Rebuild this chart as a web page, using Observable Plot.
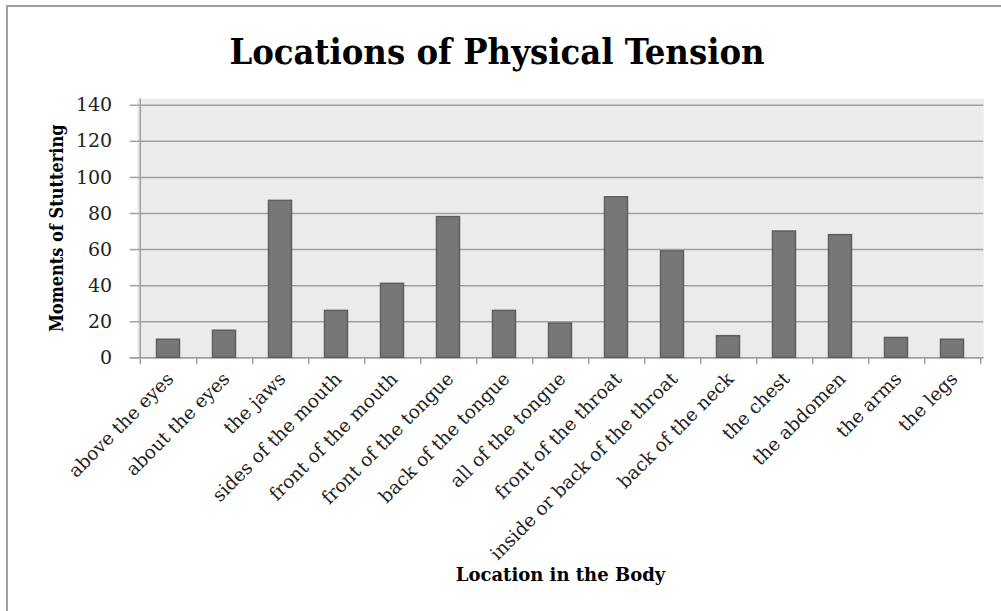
<!DOCTYPE html>
<html>
<head>
<meta charset="utf-8">
<script src="https://cdn.jsdelivr.net/npm/d3@7"></script>
<script src="https://cdn.jsdelivr.net/npm/@observablehq/plot@0.6"></script>
<style>
  html, body { margin: 0; padding: 0; background: #fff; }
  #frame {
    position: absolute; left: 6px; top: 5px; width: 1001px; height: 620px;
    border-top: 2px solid #a0a0a0; border-left: 2px solid #a0a0a0;
  }
  #title {
    position: absolute; left: 0; top: 31px; width: 994px; text-align: center;
    font-family: "DejaVu Serif Condensed", "DejaVu Serif", serif; font-stretch: condensed;
    font-weight: bold; font-size: 36px; color: #000; line-height: 40px;
  }
  #chart { position: absolute; left: 0; top: 90px; }
</style>
</head>
<body>
<div id="frame"></div>
<div id="title">Locations of Physical Tension</div>
<div id="chart"></div>
<script>
const locations = [
  "above the eyes", "about the eyes", "the jaws", "sides of the mouth",
  "front of the mouth", "front of the tongue", "back of the tongue",
  "all of the tongue", "front of the throat", "inside or back of the throat",
  "back of the neck", "the chest", "the abdomen", "the arms", "the legs"
];
const moments = [10, 15, 87, 26, 41, 78, 26, 19, 89, 59, 12, 70, 68, 11, 10];
const yTicks = [0, 20, 40, 60, 80, 100, 120, 140];

const data = locations.map((loc, i) => ({loc, value: moments[i]}));

const W = 1001, H = 521;
const mL = 136.7, mR = W - 983.3, mT = 8.3, mB = H - 267.3;
const step = (W - mL - mR) / locations.length;
const font = "DejaVu Serif, serif";
const axisGray = "#a0a0a0";

const chart = Plot.plot({
  width: W, height: H,
  marginLeft: mL, marginRight: mR, marginTop: mT, marginBottom: mB,
  style: {fontFamily: font, fontSize: "19px", color: "#222", background: "transparent"},
  x: {type: "band", domain: locations, padding: 0, label: null},
  y: {domain: [0, 143.6], label: null},
  marks: [
    Plot.frame({fill: "#ebebeb", stroke: null}),
    Plot.gridY(yTicks, {stroke: axisGray, strokeOpacity: 1, strokeWidth: 1.5}),
    Plot.ruleY([0], {stroke: axisGray, strokeWidth: 1.5, insetLeft: -7}),
    Plot.ruleX([locations[0]], {stroke: axisGray, strokeWidth: 1.5, dx: -step / 2, insetBottom: -7}),
    Plot.axisX({text: null, tickSize: 7, dx: step / 2, stroke: axisGray, strokeWidth: 1.5}),
    Plot.barY(data, {x: "loc", y: "value", fill: "#777777", stroke: "#5f5f5f", strokeWidth: 1.5, insetLeft: 16.5, insetRight: 16.5}),
    Plot.axisY({ticks: yTicks, tickSize: 0, tickPadding: 25, fontSize: 19, fill: "#222", stroke: null}),
    Plot.axisY({ticks: yTicks, text: null, tickSize: 7, stroke: axisGray, strokeWidth: 1.5}),
    Plot.axisX({tickSize: 0, tickRotate: -45, tickPadding: 10, fontSize: 18.5, fill: "#222", stroke: null, dx: 2, dy: 8}),
    Plot.text(["Moments of Stuttering"], {frameAnchor: "left", textAnchor: "middle", dx: -80, rotate: -90, fontWeight: "bold", fontSize: 18, fontStretch: "condensed", fontFamily: "DejaVu Serif Condensed, DejaVu Serif, serif", fill: "#000"}),
    Plot.text(["Location in the Body"], {frameAnchor: "bottom", dy: 223, fontWeight: "bold", fontSize: 18, fill: "#000"})
  ]
});
document.getElementById("chart").appendChild(chart);
</script>
</body>
</html>
